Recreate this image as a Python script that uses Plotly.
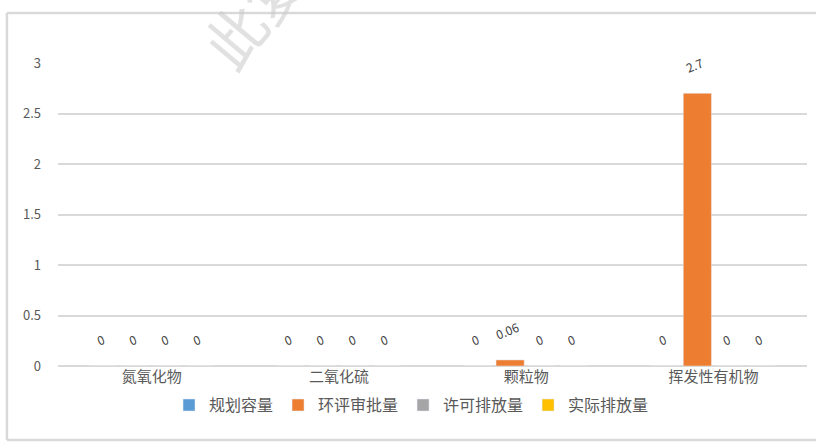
import plotly.graph_objects as go

categories = ["氮氧化物", "二氧化硫", "颗粒物", "挥发性有机物"]
series_names = ["规划容量", "环评审批量", "许可排放量", "实际排放量"]
planned = [0, 0, 0, 0]
approved = [0, 0, 0.06, 2.7]
permitted = [0, 0, 0, 0]
actual = [0, 0, 0, 0]
series_values = [planned, approved, permitted, actual]
colors = ["#5B9BD5", "#ED7D31", "#A5A5A5", "#FFC000"]
y_ticks = [0, 0.5, 1, 1.5, 2, 2.5, 3]

FONT = "Noto Sans CJK SC"
fig = go.Figure()
for name, vals, col in zip(series_names, series_values, colors):
    fig.add_trace(go.Bar(
        x=categories, y=vals, name=name, marker_color=col,
        text=[f"{v:g}<br> " for v in vals],
        textposition="outside", textangle=-22, constraintext="none",
        textfont=dict(family=FONT, size=12, color="#404040"),
        cliponaxis=False,
    ))

# chart-area border lines (left, top, bottom; right edge runs off the picture)
bx0, bx1, by0, by1 = -0.0682, 1.02, -0.244, 1.165
border = dict(color="#d9d9d9", width=2.5)
fig.update_layout(
    width=816, height=442,
    margin=dict(l=58, r=9, t=63, b=76),
    paper_bgcolor="white", plot_bgcolor="white",
    barmode="group", bargap=0.316, bargroupgap=0.12,
    font=dict(family=FONT, color="#595959"),
    showlegend=True,
    legend=dict(orientation="h", x=0.472, xanchor="center", y=-0.129, yanchor="middle",
                font=dict(family=FONT, size=16, color="#595959"),
                itemwidth=30, traceorder="normal"),
    xaxis=dict(showgrid=False, showline=False, ticks="", zeroline=False,
               tickfont=dict(family=FONT, size=15, color="#595959")),
    yaxis=dict(range=[0, 3], tickvals=y_ticks, ticktext=[f"{t:g}" for t in y_ticks],
               showgrid=True, gridcolor="#d9d9d9", gridwidth=1.5,
               zeroline=True, zerolinecolor="#d9d9d9", zerolinewidth=2,
               showline=False, ticks="", ticklabelstandoff=16,
               tickfont=dict(family=FONT, size=13, color="#595959")),
    shapes=[
        dict(type="line", xref="paper", yref="paper", x0=bx0, x1=bx1, y0=by1, y1=by1, line=border, layer="below"),
        dict(type="line", xref="paper", yref="paper", x0=bx0, x1=bx0, y0=by0, y1=by1, line=border, layer="below"),
        dict(type="line", xref="paper", yref="paper", x0=bx0, x1=bx1, y0=by0, y1=by0, line=border, layer="below"),
    ],
    annotations=[dict(text="此复", xref="paper", yref="paper",
                      x=(252 - 58) / 748, y=(366 - 10) / 303,
                      xanchor="center", yanchor="middle",
                      showarrow=False, textangle=-50,
                      font=dict(family=FONT, size=60, color="rgba(200,200,200,0.55)"))],
)
fig.write_html("out.html")
